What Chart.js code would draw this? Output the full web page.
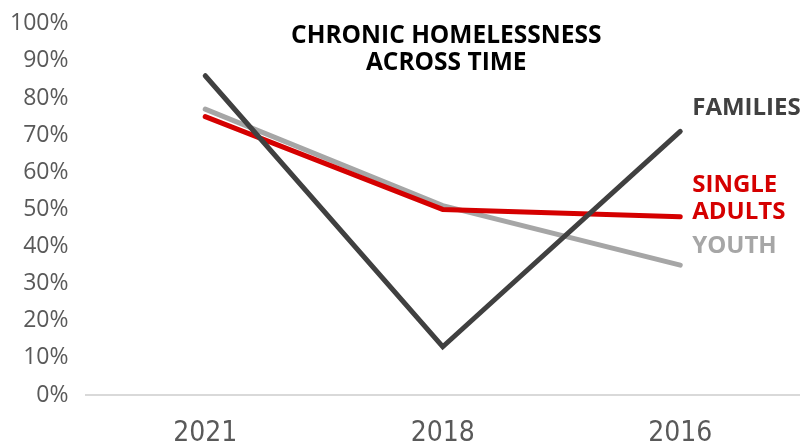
<!DOCTYPE html>
<html><head><meta charset="utf-8">
<script src="https://cdn.jsdelivr.net/npm/chart.js@4"></script>
<style>html,body{margin:0;padding:0;background:#fff}#wrap{width:803px;height:443px}</style>
</head><body><div id="wrap"><canvas id="c" width="803" height="443"></canvas></div>
<script>
const categories = ["2021", "2018", "2016"];
const families = [0.86, 0.13, 0.71];
const singleAdults = [0.75, 0.50, 0.48];
const youth = [0.77, 0.51, 0.35];
const seriesNames = ["FAMILIES", "SINGLE\nADULTS", "YOUTH"];
const titleLines = ["CHRONIC HOMELESSNESS", "ACROSS TIME"];

const colors = ["#404040", "#d50000", "#a6a6a6"];

const labelPlugin = {
  id: 'labels',
  afterDatasetsDraw(chart) {
    const ctx = chart.ctx;
    const ca = chart.chartArea;
    ctx.save();
    ctx.font = "bold 24.5px 'Open Sans'";
    ctx.textAlign = 'center';
    ctx.textBaseline = 'middle';
    ctx.fillStyle = '#000';
    const cx = (ca.left + ca.right) / 2 + 3.5;
    ctx.fillText(titleLines[0], cx, 36);
    ctx.fillText(titleLines[1], cx, 63);
    ctx.font = "bold 24px 'Open Sans'";
    ctx.textAlign = 'left';
    const dy = [-23, -32, -19];
    chart.data.datasets.forEach((ds, i) => {
      const meta = chart.getDatasetMeta(i);
      const p = meta.data[meta.data.length - 1];
      ctx.fillStyle = colors[i];
      const lines = seriesNames[i].split('\n');
      const x = p.x + 12;
      const y = p.y + dy[i];
      lines.forEach((l, k) => ctx.fillText(l, x, y + k * 27));
    });
    ctx.restore();
  }
};

new Chart(document.getElementById('c'), {
  type: 'line',
  data: {
    labels: categories,
    datasets: [
      { label: 'Families', data: families, borderColor: colors[0], borderWidth: 5, pointRadius: 0, tension: 0, borderCapStyle: 'round' },
      { label: 'Single Adults', data: singleAdults, borderColor: colors[1], borderWidth: 5, pointRadius: 0, tension: 0, borderCapStyle: 'round' },
      { label: 'Youth', data: youth, borderColor: colors[2], borderWidth: 5, pointRadius: 0, tension: 0, borderCapStyle: 'round' }
    ]
  },
  options: {
    responsive: false,
    animation: false,
    layout: { padding: { top: 9, right: 4, bottom: -22, left: 0 } },
    plugins: { legend: { display: false }, tooltip: { enabled: false } },
    scales: {
      x: {
        offset: true,
        grid: { display: false },
        border: { color: '#d9d9d9', width: 2 },
        ticks: { color: '#595959', font: { family: "'Liberation Sans Narrow', 'DejaVu Sans Condensed', sans-serif", size: 28, lineHeight: 1 }, padding: 17 }
      },
      y: {
        min: 0, max: 1,
        grid: { display: false },
        border: { display: false },
        ticks: {
          stepSize: 0.1,
          color: '#595959',
          padding: 10,
          font: { family: "'Open Sans'", size: 23 },
          callback: v => Math.round(v * 100) + '%'
        }
      }
    }
  },
  plugins: [labelPlugin]
});
</script></body></html>
